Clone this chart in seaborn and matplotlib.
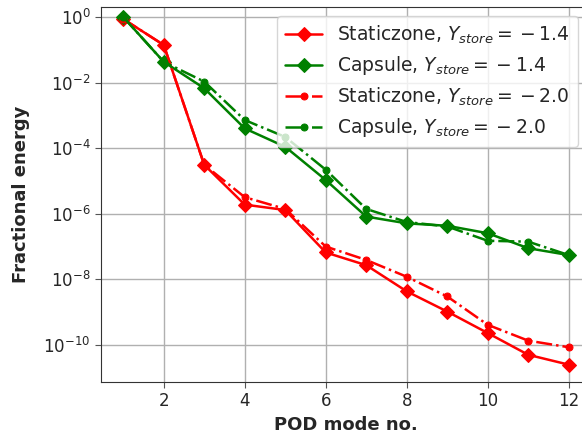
import numpy as np
import pandas as pd
import matplotlib
matplotlib.use("Agg")
import matplotlib.pyplot as plt
import matplotlib.ticker as mticker
import seaborn as sns

# POD mode numbers and fractional energy of each mode
modes = [1, 2, 3, 4, 5, 6, 7, 8, 9, 10, 11, 12]

static_14 = [0.87, 0.14, 3.1e-5, 1.9e-6, 1.3e-6, 6.6e-8, 2.7e-8, 4.3e-9,
             1.04e-9, 2.3e-10, 5.0e-11, 2.5e-11]
capsule_14 = [1.0, 0.043, 6.7e-3, 4.0e-4, 1.1e-4, 1.07e-5, 8.2e-7, 5.1e-7,
              4.3e-7, 2.55e-7, 8.9e-8, 5.5e-8]
static_20 = [0.87, 0.14, 3.1e-5, 3.2e-6, 1.4e-6, 1.0e-7, 3.9e-8, 1.2e-8,
             3.0e-9, 4.1e-10, 1.35e-10, 8.5e-11]
capsule_20 = [1.0, 0.043, 1.07e-2, 7.2e-4, 2.2e-4, 2.2e-5, 1.4e-6, 5.6e-7,
              4.1e-7, 1.5e-7, 1.41e-7, 5.5e-8]

labels = [r"Staticzone, $Y_{store} = {} - 1.4$",
          r"Capsule, $Y_{store} = {} - 1.4$",
          r"Staticzone, $Y_{store} = {} - 2.0$",
          r"Capsule, $Y_{store} = {} - 2.0$"]

sns.set_style("ticks")
plt.rcParams["font.family"] = ["DejaVu Sans"]

fig = plt.figure(figsize=(5.82, 4.36), dpi=100)
ax = fig.add_axes([0.1735, 0.1239, 0.842, 0.860])

series = [
    (static_14, "red", "-", "D", 7, labels[0]),
    (capsule_14, "green", "-", "D", 7, labels[1]),
    (static_20, "red", "-.", "o", 5, labels[2]),
    (capsule_20, "green", "-.", "o", 5, labels[3]),
]
for vals, color, ls, mk, ms, lab in series:
    df = pd.DataFrame({"mode": modes, "energy": vals})
    sns.lineplot(data=df, x="mode", y="energy", ax=ax, color=color,
                 linestyle=ls, marker=mk, markersize=ms, linewidth=1.8,
                 markeredgecolor=color, label=lab)

ax.set_yscale("log")
ax.set_xlim(0.45, 12.55)
ax.set_ylim(10 ** -11.13, 10 ** 0.305)
ax.yaxis.set_major_locator(mticker.FixedLocator([10.0 ** k for k in range(0, -11, -2)]))
ax.yaxis.set_minor_locator(mticker.NullLocator())
ax.set_xticks([2, 4, 6, 8, 10, 12])

ax.grid(True, color="#b0b0b0", linewidth=1.0)
ax.tick_params(labelsize=12, length=4, color="#555555")
for s in ax.spines.values():
    s.set_color("#333333")

ax.set_xlabel("POD mode no.", fontsize=13, fontweight="bold")
ax.set_ylabel("Fractional energy", fontsize=13, fontweight="bold", labelpad=10)

ax.legend(loc="upper right", bbox_to_anchor=(0.9725, 0.976), borderaxespad=0,
          fontsize=13.5, handlelength=2.0, labelspacing=0.45)

fig.savefig("out.png", dpi=100)
